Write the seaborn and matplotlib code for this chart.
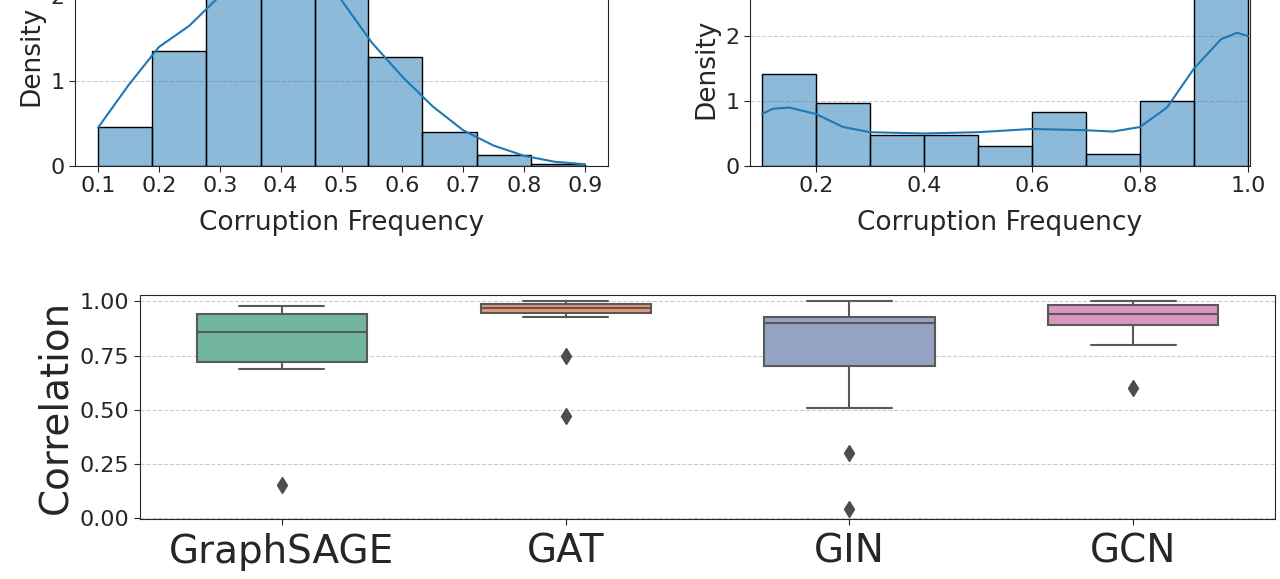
import numpy as np
import pandas as pd
import matplotlib
matplotlib.use("Agg")
import matplotlib.pyplot as plt
import seaborn as sns

sns.set_style("white")
plt.rcParams['font.family'] = ['DejaVu Sans']

# Histogram data (left)
left_edges = [0.1, 0.189, 0.278, 0.367, 0.456, 0.544, 0.633, 0.722, 0.811, 0.9]
left_density = [0.46, 1.35, 2.3, 2.6, 2.3, 1.28, 0.40, 0.13, 0.02]
left_kde_x = [0.1, 0.15, 0.2, 0.25, 0.3, 0.35, 0.4, 0.45, 0.5, 0.55, 0.6, 0.65, 0.7, 0.75, 0.8, 0.85, 0.9]
left_kde_y = [0.45, 0.95, 1.4, 1.65, 2.0, 2.3, 2.45, 2.3, 1.95, 1.45, 1.05, 0.7, 0.42, 0.24, 0.12, 0.05, 0.02]

# Histogram data (right)
right_edges = [0.1, 0.2, 0.3, 0.4, 0.5, 0.6, 0.7, 0.8, 0.9, 1.0]
right_density = [1.42, 0.97, 0.48, 0.48, 0.31, 0.83, 0.18, 1.0, 2.9]
right_kde_x = [0.1, 0.12, 0.15, 0.2, 0.25, 0.3, 0.4, 0.5, 0.6, 0.7, 0.75, 0.8, 0.85, 0.9, 0.95, 0.98, 1.0]
right_kde_y = [0.8, 0.88, 0.9, 0.8, 0.6, 0.52, 0.5, 0.52, 0.57, 0.55, 0.53, 0.6, 0.9, 1.5, 1.95, 2.05, 2.0]

# Box plot data
models = ["GraphSAGE", "GAT", "GIN", "GCN"]
graphsage = [0.15, 0.69, 0.70, 0.72, 0.78, 0.83, 0.86, 0.90, 0.92, 0.94, 0.96, 0.97, 0.98]
gat = [0.47, 0.75, 0.93, 0.945, 0.95, 0.96, 0.97, 0.975, 0.98, 0.99, 0.995, 1.0, 1.0]
gin = [0.04, 0.30, 0.51, 0.70, 0.75, 0.85, 0.90, 0.91, 0.92, 0.93, 0.96, 0.98, 1.0]
gcn = [0.60, 0.80, 0.85, 0.89, 0.91, 0.92, 0.94, 0.95, 0.97, 0.985, 0.99, 1.0, 1.0]

fig = plt.figure(figsize=(12.8, 5.79), dpi=100)
H = 579.0

def hist(ax, edges, dens, kx, ky, ylim, xticks):
    centers = [(edges[i] + edges[i+1]) / 2 for i in range(len(dens))]
    sns.histplot(x=centers, weights=dens, bins=edges, stat="count", ax=ax,
                 color="#1f77b4", alpha=0.5, edgecolor="black", linewidth=1)
    sns.lineplot(x=kx, y=ky, ax=ax, color="#1f77b4", linewidth=1.5)
    ax.set_ylim(*ylim)
    ax.set_xticks(xticks)
    ax.set_yticks([0, 1, 2])
    ax.yaxis.grid(True, linestyle="--", color="#cccccc", linewidth=0.8)
    ax.set_axisbelow(True)
    ax.set_xlabel("Corruption Frequency", fontsize=19, labelpad=10)
    ax.set_ylabel("Density", fontsize=19)
    ax.tick_params(labelsize=16, length=4, left=True, bottom=True)

ax1 = fig.add_axes([75/1280, 1-166/H, 533/1280, 2.6*85/H])
hist(ax1, left_edges, left_density, left_kde_x, left_kde_y, (0, 2.6),
     [0.1, 0.2, 0.3, 0.4, 0.5, 0.6, 0.7, 0.8, 0.9])
ax1.set_xlim(0.0622, 0.9378)

ax2 = fig.add_axes([750/1280, 1-166/H, 500/1280, 3.0*65/H])
hist(ax2, right_edges, right_density, right_kde_x, right_kde_y, (0, 3.0),
     [0.2, 0.4, 0.6, 0.8, 1.0])
ax2.set_xlim(0.0778, 1.0037)

ax3 = fig.add_axes([140/1280, 1-519/H, 1135/1280, 224/H])
df = pd.DataFrame({"model": np.repeat(models, 13),
                   "corr": graphsage + gat + gin + gcn})
sns.boxplot(data=df, x="model", y="corr", hue="model", palette="Set2", ax=ax3,
            width=0.6, linewidth=1.5, legend=False,
            flierprops=dict(marker="d", markersize=8, markerfacecolor="#4d4d4d",
                            markeredgecolor="#4d4d4d"))
ax3.set_ylim(-0.005, 1.03)
ax3.set_yticks([0, 0.25, 0.5, 0.75, 1.0])
ax3.set_yticklabels(["0.00", "0.25", "0.50", "0.75", "1.00"])
ax3.yaxis.grid(True, linestyle="--", color="#cccccc", linewidth=0.8)
ax3.set_axisbelow(True)
ax3.set_xlabel("")
ax3.set_ylabel("Correlation", fontsize=28)
ax3.tick_params(axis="y", labelsize=16, length=4, left=True)
ax3.tick_params(axis="x", labelsize=28, length=4, bottom=True, pad=6)

fig.savefig("out.png", dpi=100)
